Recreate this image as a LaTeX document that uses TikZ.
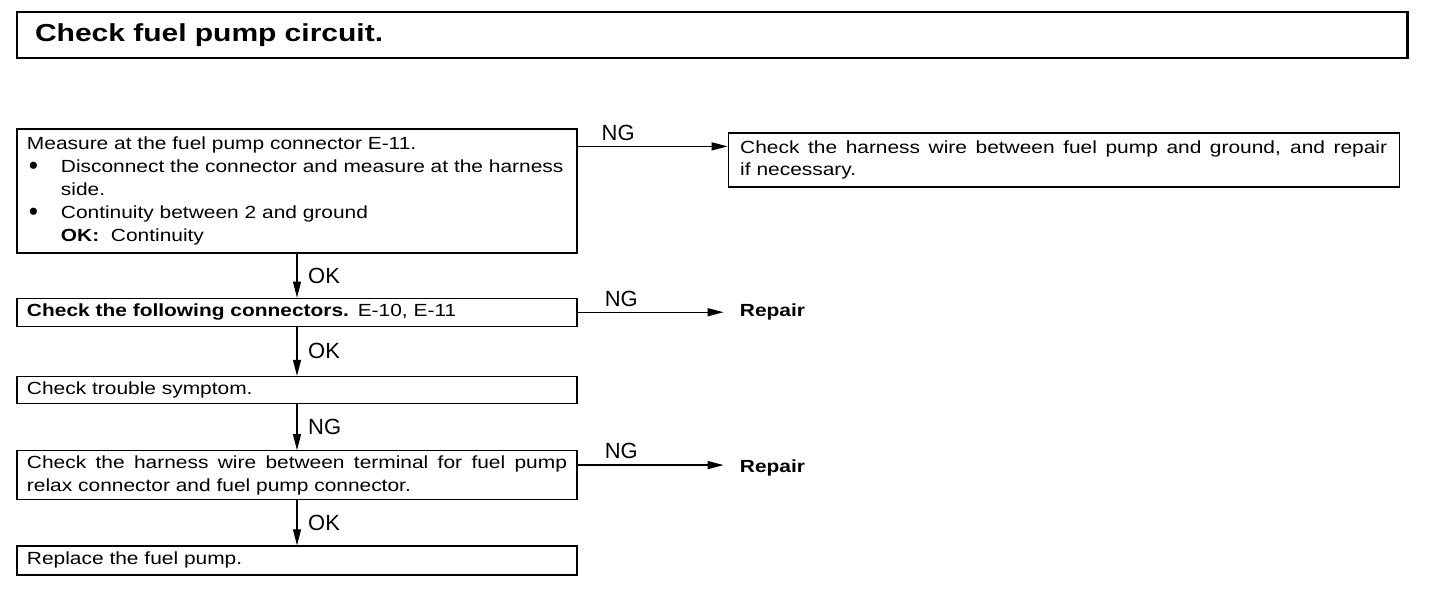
\documentclass[tikz,border=0pt]{standalone}
\usepackage{fontspec}
\setmainfont[FakeStretch=1.19]{Liberation Sans}
\newfontfamily\titlefont[FakeStretch=1.22]{Liberation Sans}
\newfontfamily\labelfont{Liberation Sans}
\usepackage{tikz}
\usetikzlibrary{arrows.meta, positioning}
\newcommand{\bulletind}{\makebox[19.3pt][l]{\hspace{1pt}\raisebox{-1.3pt}{\labelfont\fontsize{15}{15}\selectfont\textbullet}}}
\newcommand{\fullline}[1]{\makebox[\hsize][s]{\spaceskip=0.33em plus 1em\relax #1}}

\begin{document}
\begin{tikzpicture}[
  titlebox/.style={draw=black, line width=1.7pt, minimum width=27.8cm, minimum height=0.92cm, text width=27.08cm, inner xsep=0.36cm, align=left, font=\titlefont\fontsize{14}{16}\selectfont\bfseries},
  stepbox/.style={draw=black, line width=0.7pt, minimum width=11.2cm, text width=10.8cm, inner xsep=0.2cm, inner ysep=0pt, align=left, font=\fontsize{10}{13}\selectfont},
  fixbox/.style={draw=black, line width=0.7pt, minimum width=13.42cm, minimum height=1.08cm, text width=12.94cm, inner xsep=0.24cm, align=left, font=\fontsize{10}{13}\selectfont},
  repairlbl/.style={inner xsep=0pt, font=\fontsize{10}{13}\selectfont\bfseries},
  oklbl/.style={right, inner sep=6pt, font=\labelfont\fontsize{12.5}{14}\selectfont},
  nglbl/.style={above, pos=0.27, inner sep=3pt, font=\labelfont\fontsize{12.5}{14}\selectfont},
  flowarrow/.style={-{Triangle[length=0.32cm, width=0.16cm]}, line width=0.7pt}
]
\useasboundingbox (0,0) rectangle (29.12,-11.92);
\node[titlebox] (title) at (14.24,-0.70) {Check fuel pump circuit.};

\node[stepbox, minimum height=2.48cm] (measure) at (5.94,-3.82) {Measure at the fuel pump connector E-11.\\
\bulletind Disconnect the connector and measure at the harness\\
\hspace*{19.3pt}side.\\
\bulletind Continuity between 2 and ground\\
\hspace*{19.3pt}\textbf{OK:}\ \ Continuity};
\node[stepbox, minimum height=0.56cm, below=0.88cm of measure] (conn) {\textbf{Check the following connectors.} E-10, E-11};
\node[stepbox, minimum height=0.54cm, below=0.98cm of conn] (symptom) {Check trouble symptom.};
\node[stepbox, minimum height=0.98cm, below=0.92cm of symptom] (harness) {\fullline{Check the harness wire between terminal for fuel pump}\\
relax connector and fuel pump connector.};
\node[stepbox, minimum height=0.58cm, below=0.9cm of harness] (replace) {Replace the fuel pump.};

\node[fixbox, anchor=north west] (ground) at ([xshift=3cm, yshift=-0.08cm]measure.north east) {\fullline{Check the harness wire between fuel pump and ground, and repair}\\
if necessary.};
\coordinate (ngmeasure) at ([yshift=-0.36cm]measure.north east);
\coordinate (ngharness) at ([yshift=-0.3cm]harness.north east);
\node[repairlbl, right=3.24cm of conn] (repairconn) {Repair};
\node[repairlbl, right=3.24cm of ngharness, yshift=-0.06cm] (repairharness) {Repair};

\draw[flowarrow] (ngmeasure) -- node[nglbl]{NG} (ngmeasure -| ground.west);
\draw[flowarrow] (measure) -- node[oklbl]{OK} (conn);
\draw[flowarrow, shorten >=0.32cm] (conn) -- node[nglbl]{NG} (conn -| repairconn.west);
\draw[flowarrow] (conn) -- node[oklbl]{OK} (symptom);
\draw[flowarrow] (symptom) -- node[oklbl]{NG} (harness);
\draw[flowarrow, shorten >=0.32cm] (ngharness) -- node[nglbl]{NG} (ngharness -| repairharness.west);
\draw[flowarrow] (harness) -- node[oklbl]{OK} (replace);
\end{tikzpicture}
\end{document}
